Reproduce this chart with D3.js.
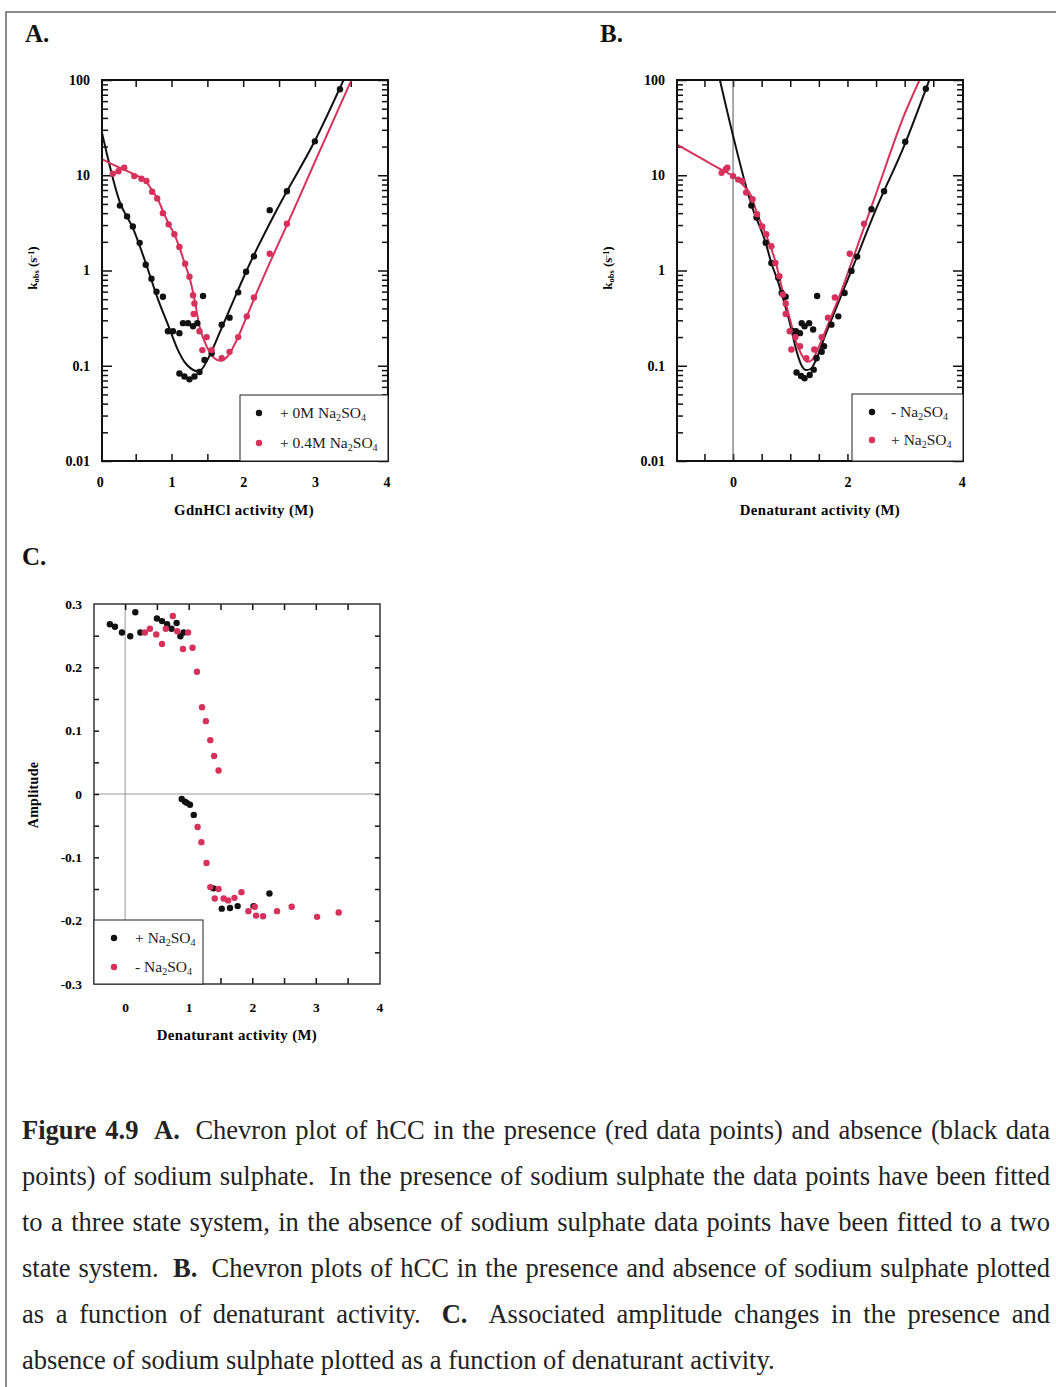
<!DOCTYPE html>
<html>
<head>
<meta charset="utf-8">
<script src="https://cdn.jsdelivr.net/npm/d3@7"></script>
<style>
  body { margin: 0; background: #fff; }
  svg { display: block; }
</style>
</head>
<body>
<script>
// ---- data ----
// A: kobs vs GdnHCl activity
const aNoSaltPts = [[0.28,4.8],[0.38,3.7],[0.46,2.9],[0.555,1.95],[0.64,1.15],[0.72,0.82],[0.79,0.6],[0.88,0.53],
  [0.95,0.23],[1.02,0.23],[1.11,0.22],[1.16,0.28],[1.23,0.28],[1.30,0.26],[1.36,0.28],[1.44,0.54],
  [1.11,0.083],[1.18,0.077],[1.25,0.072],[1.32,0.077],[1.39,0.086],[1.46,0.115],[1.56,0.135],[1.70,0.27],
  [1.81,0.32],[1.93,0.59],[2.04,0.97],[2.15,1.41],[2.37,4.3],[2.61,6.8],[3.00,22.7],[3.35,80]];
const aSaltPts = [[0.18,10.4],[0.26,11.0],[0.34,12.0],[0.48,9.8],[0.58,9.2],[0.65,8.7],[0.73,6.7],[0.80,5.7],
  [0.88,4.0],[0.96,3.05],[1.04,2.4],[1.11,1.77],[1.19,1.18],[1.25,0.86],[1.30,0.55],[1.32,0.45],[1.31,0.35],
  [1.39,0.23],[1.49,0.2],[1.43,0.146],[1.56,0.146],[1.70,0.12],[1.81,0.14],[1.93,0.2],[2.05,0.33],[2.15,0.52],
  [2.37,1.5],[2.61,3.1]];
const aNoSaltFit = [[0.03,28],[0.28,5.2],[0.46,2.8],[0.64,1.2],[0.81,0.5],[0.95,0.27],[1.09,0.146],[1.18,0.11],
  [1.26,0.095],[1.35,0.088],[1.42,0.092],[1.5,0.115],[1.7,0.25],[1.93,0.63],[2.04,0.97],[2.5,4.8],[3.0,23],[3.40,100]];
const aSaltFit = [[0.03,14.8],[0.2,12.8],[0.4,10.9],[0.55,9.6],[0.65,8.5],[0.73,6.9],[0.80,5.8],[0.88,4.2],[0.96,3.1],
  [1.04,2.4],[1.11,1.75],[1.19,1.15],[1.25,0.85],[1.32,0.5],[1.39,0.26],[1.49,0.16],[1.6,0.12],[1.68,0.113],
  [1.78,0.125],[1.9,0.18],[2.05,0.33],[2.15,0.5],[2.37,1.2],[2.61,3.0],[3.0,13.8],[3.51,100]];

// B: kobs vs denaturant activity
const bNoSaltPts = [[0.32,4.8],[0.41,3.6],[0.57,1.96],[0.67,1.2],[0.79,0.84],[0.85,0.58],[0.92,0.53],
  [1.05,0.23],[1.10,0.23],[1.17,0.22],[1.20,0.28],[1.25,0.26],[1.33,0.28],[1.40,0.24],[1.47,0.54],
  [1.11,0.085],[1.19,0.078],[1.25,0.074],[1.34,0.08],[1.41,0.091],[1.46,0.12],[1.55,0.14],[1.59,0.16],
  [1.72,0.27],[1.84,0.33],[1.95,0.58],[2.07,0.99],[2.17,1.4],[2.42,4.4],[2.64,6.8],[3.01,22.5],[3.37,81]];
const bSaltPts = [[-0.2,10.6],[-0.13,11.5],[-0.1,12.0],[0.0,9.8],[0.09,9.0],[0.16,8.7],[0.23,6.6],[0.34,5.6],
  [0.42,3.9],[0.51,2.9],[0.58,2.4],[0.67,1.8],[0.74,1.2],[0.81,0.87],[0.87,0.56],[0.92,0.45],[0.92,0.35],
  [0.99,0.23],[1.09,0.2],[1.02,0.148],[1.17,0.16],[1.28,0.12],[1.42,0.148],[1.55,0.2],[1.66,0.32],[1.78,0.52],
  [2.04,1.5],[2.29,3.1]];
const bNoSaltFit = [[-0.23,100],[0,26],[0.32,4.9],[0.57,1.95],[0.67,1.2],[0.79,0.75],[0.9,0.45],[1.0,0.27],
  [1.1,0.15],[1.2,0.1],[1.28,0.09],[1.36,0.093],[1.45,0.115],[1.6,0.2],[1.8,0.4],[2.07,1.0],[2.5,4.4],[3.0,21],[3.43,100]];
const bSaltFit = [[-0.98,21],[-0.5,14.4],[-0.2,11.4],[0,9.8],[0.12,8.6],[0.2,7.6],[0.29,6.5],[0.44,3.7],[0.61,2.1],
  [0.74,1.25],[0.87,0.6],[1.0,0.3],[1.1,0.18],[1.2,0.13],[1.3,0.11],[1.38,0.115],[1.52,0.17],[1.69,0.3],
  [1.86,0.54],[2.09,1.3],[2.5,6.4],[3.0,44],[3.26,100]];

// C: amplitude vs denaturant activity
const cSaltAmp = [[-0.24,0.268],[-0.16,0.264],[-0.05,0.255],[0.08,0.249],[0.16,0.287],[0.24,0.255],[0.50,0.277],
  [0.58,0.273],[0.66,0.268],[0.73,0.261],[0.81,0.270],[0.87,0.249],[0.92,0.255],[0.89,-0.008],[0.94,-0.012],
  [0.97,-0.014],[1.02,-0.017],[1.08,-0.033],[1.39,-0.149],[1.52,-0.181],[1.65,-0.180],[1.77,-0.177],
  [2.02,-0.177],[2.27,-0.157]];
const cNoSaltAmp = [[0.31,0.255],[0.39,0.261],[0.49,0.252],[0.58,0.237],[0.64,0.261],[0.75,0.281],[0.82,0.257],
  [0.91,0.229],[0.99,0.255],[1.06,0.231],[1.13,0.193],[1.21,0.137],[1.27,0.115],[1.34,0.085],[1.40,0.060],
  [1.47,0.037],[1.14,-0.052],[1.20,-0.076],[1.28,-0.109],[1.34,-0.147],[1.47,-0.150],[1.41,-0.165],
  [1.55,-0.165],[1.62,-0.168],[1.72,-0.164],[1.83,-0.155],[1.94,-0.185],[2.04,-0.178],[2.06,-0.192],
  [2.17,-0.193],[2.39,-0.185],[2.62,-0.178],[3.02,-0.194],[3.36,-0.187]];

const logTickLabels = [0.01, 0.1, 1, 10, 100];
const ampTickLabels = [-0.3, -0.2, -0.1, 0, 0.1, 0.2, 0.3];

const captionLines = [
  "Figure 4.9 A. Chevron plot of hCC in the presence (red data points) and absence (black data",
  "points) of sodium sulphate. In the presence of sodium sulphate the data points have been fitted",
  "to a three state system, in the absence of sodium sulphate data points have been fitted to a two",
  "state system. B. Chevron plots of hCC in the presence and absence of sodium sulphate plotted",
  "as a function of denaturant activity. C. Associated amplitude changes in the presence and",
  "absence of sodium sulphate plotted as a function of denaturant activity."
];
const captionBold = ["Figure", "4.9", "A.", "B.", "C."];

// ---- setup ----
const width = 1056, height = 1387;
const serif = "'Liberation Serif', 'DejaVu Serif', serif";
const red = "#d6305c";

const svg = d3.select("body").append("svg")
  .attr("width", width)
  .attr("height", height)
  .attr("viewBox", [0, 0, width, height]);

// page frame of the scan
svg.append("path")
  .attr("d", "M6,1387V12H1056")
  .attr("fill", "none")
  .attr("stroke", "#666")
  .attr("stroke-width", 1.5);

function styleAxis(g, size) {
  g.attr("font-family", serif)
    .attr("font-size", size || 14)
    .attr("font-weight", "bold");
  g.select(".domain").remove();
  g.selectAll(".tick line").attr("stroke", "#111").attr("stroke-width", 1.5);
}

// text with sub/superscript pieces
function richText(sel, parts, size) {
  parts.forEach(([t, kind]) => {
    const ts = sel.append("tspan").text(t);
    if (kind === "sub") ts.attr("font-size", size * 0.65).attr("baseline-shift", "-25%");
    if (kind === "sup") ts.attr("font-size", size * 0.65).attr("baseline-shift", "40%");
  });
}

const na2so4 = [["Na", ""], ["2", "sub"], ["SO", ""], ["4", "sub"]];
const kobs = [["k", ""], ["obs", "sub"], [" (s", ""], ["-1", "sup"], [")", ""]];

function legend(x0, y0, w, h, items, dotX, textX) {
  const g = svg.append("g");
  g.append("rect")
    .attr("x", x0).attr("y", y0).attr("width", w).attr("height", h)
    .attr("fill", "#fff").attr("stroke", "#222").attr("stroke-width", 1);
  items.forEach(it => {
    g.append("circle").attr("cx", dotX).attr("cy", it.y).attr("r", 3.2).attr("fill", it.color);
    const t = g.append("text")
      .attr("x", textX).attr("y", it.y + 5)
      .attr("font-family", serif).attr("font-size", 15.5).attr("fill", "#222");
    richText(t, [[it.prefix, ""]].concat(na2so4), 15.5);
  });
}

// ---- chevron panels (log y) ----
function chevronPanel(p) {
  const x = d3.scaleLinear().domain(p.xDomain).range([p.left, p.right]);
  const y = d3.scaleLog().domain([0.01, 100]).range([p.bottom, p.top]);
  const g = svg.append("g");

  const halfSteps = d3.range(Math.ceil(p.xDomain[0] * 2), Math.floor(p.xDomain[1] * 2) + 1)
    .map(i => i / 2)
    .filter(v => x(v) > p.left + 3 && x(v) < p.right - 3);
  const minor = y.ticks().filter(v => !logTickLabels.includes(+v.toPrecision(3)));

  g.append("g").attr("transform", `translate(${p.left},0)`)
    .call(d3.axisLeft(y).tickValues(logTickLabels).tickSize(-10).tickPadding(12).tickFormat(d3.format("~g")))
    .call(styleAxis);
  g.append("g").attr("transform", `translate(${p.left},0)`)
    .call(d3.axisLeft(y).tickValues(minor).tickSize(-6).tickFormat(""))
    .call(styleAxis);
  g.append("g").attr("transform", `translate(${p.right},0)`)
    .call(d3.axisRight(y).tickValues(logTickLabels).tickSize(-10).tickFormat(""))
    .call(styleAxis);
  g.append("g").attr("transform", `translate(${p.right},0)`)
    .call(d3.axisRight(y).tickValues(minor).tickSize(-6).tickFormat(""))
    .call(styleAxis);

  g.append("g").attr("transform", `translate(0,${p.bottom})`)
    .call(d3.axisBottom(x).tickValues(halfSteps).tickSize(-7).tickFormat(""))
    .call(styleAxis);
  g.append("g").attr("transform", `translate(0,${p.bottom})`)
    .call(d3.axisBottom(x).tickValues(p.xLabels).tickSize(0).tickPadding(16).tickFormat(d3.format("d")))
    .call(styleAxis);
  g.append("g").attr("transform", `translate(0,${p.top})`)
    .call(d3.axisTop(x).tickValues(halfSteps).tickSize(-7).tickFormat(""))
    .call(styleAxis);

  if (p.zeroLine) {
    g.append("line")
      .attr("x1", x(0)).attr("x2", x(0)).attr("y1", p.top).attr("y2", p.bottom)
      .attr("stroke", "#555").attr("stroke-width", 1);
  }

  const clipId = "clip" + p.id;
  g.append("clipPath").attr("id", clipId).append("rect")
    .attr("x", p.left).attr("y", p.top)
    .attr("width", p.right - p.left).attr("height", p.bottom - p.top);

  const line = d3.line()
    .x(d => x(d[0]))
    .y(d => y(d[1]))
    .curve(d3.curveMonotoneX);

  const plot = g.append("g").attr("clip-path", `url(#${clipId})`);
  p.fits.forEach(f => {
    plot.append("path")
      .datum(f.data)
      .attr("fill", "none")
      .attr("stroke", f.color)
      .attr("stroke-width", 2)
      .attr("d", line);
  });
  p.series.forEach(s => {
    plot.selectAll(null)
      .data(s.data)
      .join("circle")
      .attr("cx", d => x(d[0]))
      .attr("cy", d => y(d[1]))
      .attr("r", 3.2)
      .attr("fill", s.color);
  });

  g.append("rect")
    .attr("x", p.left).attr("y", p.top)
    .attr("width", p.right - p.left).attr("height", p.bottom - p.top)
    .attr("fill", "none").attr("stroke", "#111").attr("stroke-width", 2);

  // titles
  g.append("text")
    .attr("x", p.titleX).attr("y", 515)
    .attr("text-anchor", "middle")
    .attr("font-family", serif).attr("font-size", 14.8).attr("font-weight", "bold")
    .attr("letter-spacing", 0.4)
    .text(p.xTitle);
  const yl = g.append("text")
    .attr("transform", `translate(${p.yTitleX},268) rotate(-90)`)
    .attr("text-anchor", "middle")
    .attr("font-family", serif).attr("font-size", 13).attr("font-weight", "bold");
  richText(yl, kobs, 13);
}

chevronPanel({
  id: "A", left: 102, right: 388, top: 80, bottom: 461,
  xDomain: [0.03, 4.02], xLabels: [0, 1, 2, 3, 4],
  fits: [{ data: aNoSaltFit, color: "#111" }, { data: aSaltFit, color: red }],
  series: [{ data: aNoSaltPts, color: "#111" }, { data: aSaltPts, color: red }],
  xTitle: "GdnHCl activity (M)", titleX: 244, yTitleX: 37
});
legend(240, 395, 148, 66, [
  { y: 413, color: "#111", prefix: "+ 0M " },
  { y: 443, color: red, prefix: "+ 0.4M " }
], 259, 280);

chevronPanel({
  id: "B", left: 677, right: 963, top: 80, bottom: 461,
  xDomain: [-0.98, 4.02], xLabels: [0, 2, 4], zeroLine: true,
  fits: [{ data: bNoSaltFit, color: "#111" }, { data: bSaltFit, color: red }],
  series: [{ data: bNoSaltPts, color: "#111" }, { data: bSaltPts, color: red }],
  xTitle: "Denaturant activity (M)", titleX: 820, yTitleX: 612
});
legend(852, 394, 111, 67, [
  { y: 412, color: "#111", prefix: "- " },
  { y: 440, color: red, prefix: "+ " }
], 872, 891);

// ---- amplitude panel (C) ----
(function ampPanel() {
  const left = 94, right = 380, top = 604, bottom = 984;
  const x = d3.scaleLinear().domain([-0.49, 4.01]).range([left, right]);
  const y = d3.scaleLinear().domain([-0.3, 0.3]).range([bottom, top]);
  const g = svg.append("g");

  const yMinor = d3.range(-5, 6).map(i => i * 0.05);
  const xHalf = d3.range(0, 8).map(i => i / 2);

  g.append("line").attr("x1", x(0)).attr("x2", x(0)).attr("y1", top).attr("y2", bottom)
    .attr("stroke", "#999").attr("stroke-width", 1);
  g.append("line").attr("x1", left).attr("x2", right).attr("y1", y(0)).attr("y2", y(0))
    .attr("stroke", "#999").attr("stroke-width", 1);

  g.append("g").attr("transform", `translate(${left},0)`)
    .call(d3.axisLeft(y).tickValues(ampTickLabels).tickSize(0).tickPadding(12)
      .tickFormat(d => d === 0 ? "0" : d.toFixed(1)))
    .call(ax => styleAxis(ax, 13.5));
  g.append("g").attr("transform", `translate(${left},0)`)
    .call(d3.axisLeft(y).tickValues(yMinor).tickSize(-5).tickFormat(""))
    .call(styleAxis);
  g.append("g").attr("transform", `translate(${right},0)`)
    .call(d3.axisRight(y).tickValues(yMinor).tickSize(-5).tickFormat(""))
    .call(styleAxis);
  g.append("g").attr("transform", `translate(0,${bottom})`)
    .call(d3.axisBottom(x).tickValues(xHalf).tickSize(-6).tickFormat(""))
    .call(styleAxis);
  g.append("g").attr("transform", `translate(0,${top})`)
    .call(d3.axisTop(x).tickValues(xHalf).tickSize(-6).tickFormat(""))
    .call(styleAxis);
  g.append("g").attr("transform", `translate(0,${bottom})`)
    .call(d3.axisBottom(x).tickValues([0, 1, 2, 3, 4]).tickSize(0).tickPadding(18).tickFormat(d3.format("d")))
    .call(ax => styleAxis(ax, 13.5));

  [{ data: cSaltAmp, color: "#111" }, { data: cNoSaltAmp, color: red }].forEach(s => {
    g.selectAll(null)
      .data(s.data)
      .join("circle")
      .attr("cx", d => x(d[0]))
      .attr("cy", d => y(d[1]))
      .attr("r", 3.2)
      .attr("fill", s.color);
  });

  g.append("rect")
    .attr("x", left).attr("y", top)
    .attr("width", right - left).attr("height", bottom - top)
    .attr("fill", "none").attr("stroke", "#333").attr("stroke-width", 1.5);

  g.append("text")
    .attr("x", 237).attr("y", 1040)
    .attr("text-anchor", "middle")
    .attr("font-family", serif).attr("font-size", 14.8).attr("font-weight", "bold")
    .attr("letter-spacing", 0.4)
    .text("Denaturant activity (M)");
  g.append("text")
    .attr("transform", "translate(38,795) rotate(-90)")
    .attr("text-anchor", "middle")
    .attr("font-family", serif).attr("font-size", 14).attr("font-weight", "bold")
    .attr("letter-spacing", 0.3)
    .text("Amplitude");
})();
legend(94, 920, 109, 64, [
  { y: 938, color: "#111", prefix: "+ " },
  { y: 967, color: red, prefix: "- " }
], 114, 135);

// panel letters
[["A.", 25, 42], ["B.", 600, 42], ["C.", 22, 565]].forEach(([t, px, py]) => {
  svg.append("text")
    .attr("x", px).attr("y", py)
    .attr("font-family", serif).attr("font-size", 25).attr("font-weight", "bold")
    .attr("fill", "#111")
    .text(t);
});

// ---- caption, justified ----
const capLeft = 22, capRight = 1050, capTop = 1139, capStep = 45.9, capSize = 26.5;
captionLines.forEach((line, i) => {
  const words = line.split(" ");
  const nodes = words.map(w => svg.append("text")
    .attr("y", capTop + i * capStep)
    .attr("font-family", serif)
    .attr("font-size", capSize)
    .attr("font-weight", captionBold.includes(w) ? "bold" : "normal")
    .attr("fill", "#222")
    .text(w));
  const widths = nodes.map(n => n.node().getComputedTextLength());
  const weights = words.slice(0, -1).map(w => (/\.$/.test(w) || w === "4.9") ? 1.8 : 1);
  const last = i === captionLines.length - 1;
  let gap = last ? capSize * 0.25 : (capRight - capLeft - d3.sum(widths)) / d3.sum(weights);
  gap = Math.max(gap, 3);
  let cx = capLeft;
  nodes.forEach((n, j) => {
    n.attr("x", cx);
    cx += widths[j] + (j < weights.length ? gap * weights[j] : 0);
  });
});
</script>
</body>
</html>
